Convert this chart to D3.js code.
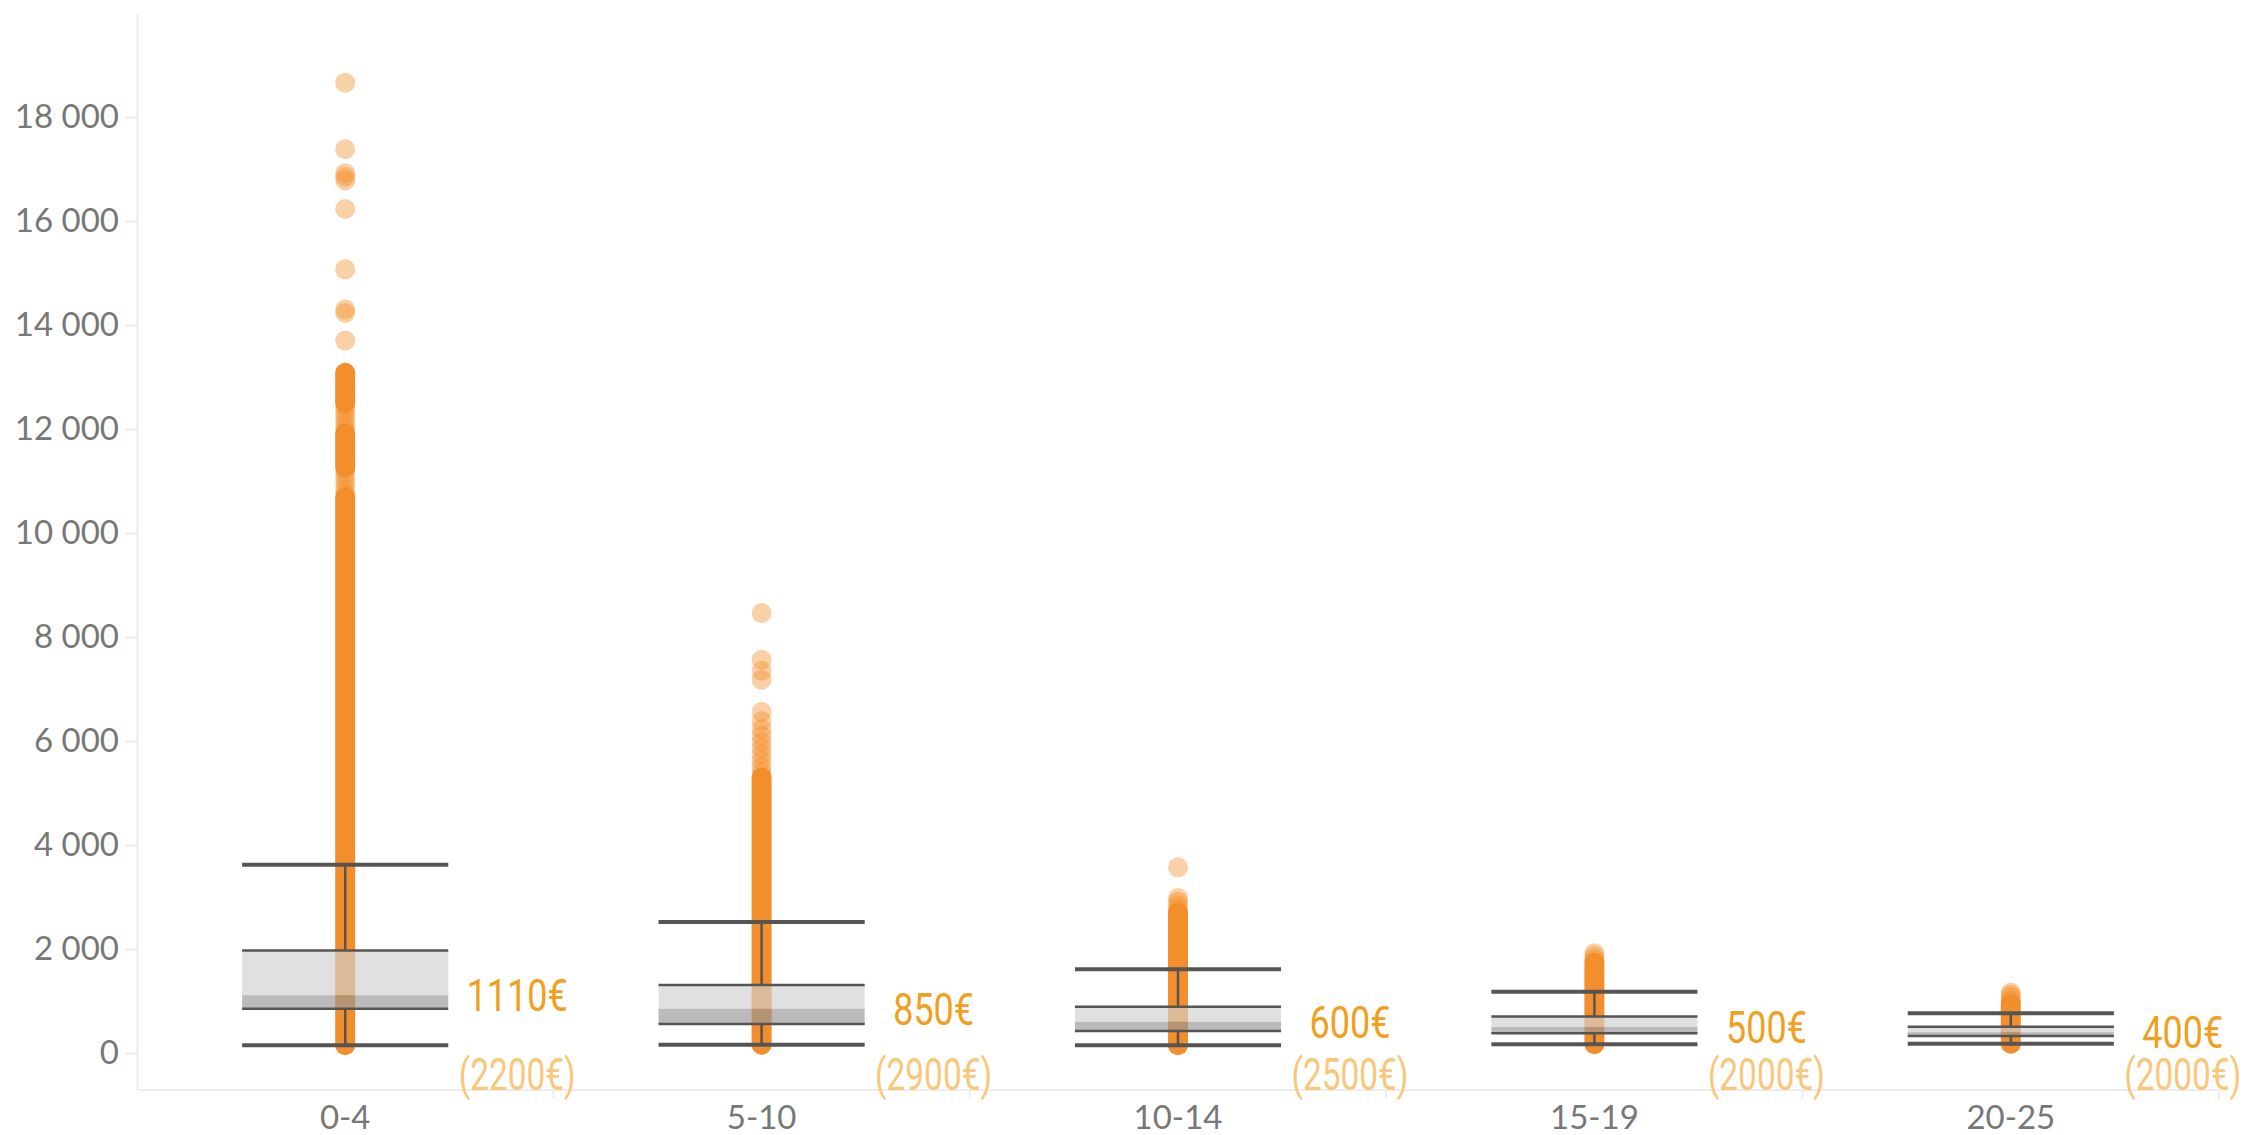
<!DOCTYPE html>
<html>
<head>
<meta charset="utf-8">
<script src="https://cdn.jsdelivr.net/npm/d3@7"></script>
<style>
  body { margin: 0; background: #fff; }
  svg { display: block; }
</style>
</head>
<body>
<div id="chart"></div>
<script>
const width = 2244;
const height = 1135;

// ----- data ----- //
const categories = ["0-4", "5-10", "10-14", "15-19", "20-25"];
const whiskerLow = [150, 160, 150, 170, 180];
const q1 = [850, 560, 425, 380, 325];
const median = [1110, 850, 600, 500, 400];
const q3 = [1970, 1310, 890, 700, 505];
const whiskerHigh = [3620, 2520, 1610, 1180, 765];
const medianLabels = ["1110€", "850€", "600€", "500€", "400€"];
const meanLabels = ["(2200€)", "(2900€)", "(2500€)", "(2000€)", "(2000€)"];
const yTicks = [0, 2000, 4000, 6000, 8000, 10000, 12000, 14000, 16000, 18000];

// value ranges where the points pile up into a solid bar
const denseRanges = [
  [[150, 10690], [11270, 11920], [12500, 13080]],
  [[160, 5300]],
  [[150, 2700]],
  [[170, 1740]],
  [[180, 950]],
];

// the looser points above the solid part
const scatterPoints = [
  [10760, 10850, 10950, 11050, 11150, 11230, 12000, 12090, 12170, 12260, 12350, 12430,
   13700, 14230, 14300, 15070, 16230, 16780, 16850, 16920, 17380, 18660],
  [5400, 5500, 5620, 5740, 5860, 5980, 6100, 6230, 6380, 6560, 7180, 7350, 7560, 8460],
  [2770, 2840, 2910, 2980, 3570],
  [1800, 1860, 1920],
  [1010, 1070, 1120, 1160],
];

const orange = "#f28e2b";
const boxLine = "#555";

function init() {
  const svg = d3
    .select("#chart")
    .append("svg")
    .attr("width", width)
    .attr("height", height);

  const xScale = d3.scaleBand().domain(categories).range([137, 2219]);
  const yScale = d3.scaleLinear().domain([-700, 20000]).range([1089.4, 13]);

  drawAxes(svg, xScale, yScale);
  drawPoints(svg, xScale, yScale);
  drawBoxes(svg, xScale, yScale);
  drawLabels(svg, xScale, yScale);
}

function drawAxes(svg, xScale, yScale) {
  const locale = d3.formatLocale({ thousands: " ", grouping: [3], decimal: ",", currency: ["", "€"] });
  const fmt = locale.format(",d");

  const yAxis = svg
    .append("g")
    .attr("transform", "translate(137,0)")
    .call(d3.axisLeft(yScale).tickValues(yTicks).tickFormat(fmt).tickSize(12).tickSizeOuter(0).tickPadding(6));
  yAxis.select(".domain").attr("stroke", "#ececec").attr("stroke-width", 2);
  yAxis.selectAll(".tick line").attr("stroke", "#ececec").attr("stroke-width", 2);
  yAxis
    .selectAll(".tick text")
    .attr("fill", "#777")
    .style("font-family", "Lato, 'Open Sans', sans-serif")
    .style("font-size", "33px");

  const xAxis = svg
    .append("g")
    .attr("transform", `translate(0,${yScale(-700)})`)
    .call(d3.axisBottom(xScale).tickSize(0).tickSizeOuter(0).tickPadding(16));
  xAxis.select(".domain").attr("stroke", "#ececec").attr("stroke-width", 2);
  xAxis
    .selectAll(".tick text")
    .attr("fill", "#777")
    .style("font-family", "Lato, 'Open Sans', sans-serif")
    .style("font-size", "33px");

  // little separators between the bands
  xAxis
    .selectAll("line.sep")
    .data(categories.slice(1).concat("end"))
    .enter()
    .append("line")
    .attr("class", "sep")
    .attr("x1", d => (d === "end" ? xScale.range()[1] : xScale(d)))
    .attr("x2", d => (d === "end" ? xScale.range()[1] : xScale(d)))
    .attr("y1", 0)
    .attr("y2", 9)
    .attr("stroke", "#ececec")
    .attr("stroke-width", 2);
}

function drawPoints(svg, xScale, yScale) {
  const r = 10;
  const g = svg.append("g");

  categories.forEach((c, i) => {
    const cx = xScale(c) + xScale.bandwidth() / 2;

    // solid stacks of overlapping points
    g.selectAll(null)
      .data(denseRanges[i])
      .enter()
      .append("line")
      .attr("x1", cx)
      .attr("x2", cx)
      .attr("y1", d => yScale(d[0]))
      .attr("y2", d => yScale(d[1]))
      .attr("stroke", orange)
      .attr("stroke-width", r * 2)
      .attr("stroke-linecap", "round");

    g.selectAll(null)
      .data(scatterPoints[i])
      .enter()
      .append("circle")
      .attr("cx", cx)
      .attr("cy", d => yScale(d))
      .attr("r", r)
      .attr("fill", orange)
      .attr("fill-opacity", 0.42);
  });
}

function drawBoxes(svg, xScale, yScale) {
  const boxW = xScale.bandwidth() * 0.495;
  const g = svg.append("g");

  categories.forEach((c, i) => {
    const cx = xScale(c) + xScale.bandwidth() / 2;
    const x0 = cx - boxW / 2;

    // upper part of the box (median -> q3)
    g.append("rect")
      .attr("x", x0)
      .attr("width", boxW)
      .attr("y", yScale(q3[i]))
      .attr("height", yScale(median[i]) - yScale(q3[i]))
      .attr("fill", "#d0d0d0")
      .attr("fill-opacity", 0.66);

    // lower part (q1 -> median)
    g.append("rect")
      .attr("x", x0)
      .attr("width", boxW)
      .attr("y", yScale(median[i]))
      .attr("height", yScale(q1[i]) - yScale(median[i]))
      .attr("fill", "#979797")
      .attr("fill-opacity", 0.66);

    // whisker stems
    [[whiskerLow[i], q1[i]], [q3[i], whiskerHigh[i]]].forEach(seg => {
      g.append("line")
        .attr("x1", cx)
        .attr("x2", cx)
        .attr("y1", yScale(seg[0]))
        .attr("y2", yScale(seg[1]))
        .attr("stroke", boxLine)
        .attr("stroke-width", 2.5);
    });

    // box edges
    [q1[i], q3[i]].forEach(v => {
      g.append("line")
        .attr("x1", x0)
        .attr("x2", x0 + boxW)
        .attr("y1", yScale(v))
        .attr("y2", yScale(v))
        .attr("stroke", boxLine)
        .attr("stroke-width", 2.5);
    });

    // whisker caps
    [whiskerLow[i], whiskerHigh[i]].forEach(v => {
      g.append("line")
        .attr("x1", x0)
        .attr("x2", x0 + boxW)
        .attr("y1", yScale(v))
        .attr("y2", yScale(v))
        .attr("stroke", boxLine)
        .attr("stroke-width", 4);
    });
  });
}

// the labels use a condensed face, so squeeze Roboto sideways
function drawLabels(svg, xScale, yScale) {
  const g = svg.append("g").style("font-family", "Roboto, 'Noto Sans', sans-serif");

  categories.forEach((c, i) => {
    const lx = xScale(c) + xScale.bandwidth() / 2 + 172;

    g.append("text")
      .attr("transform", `translate(${lx},${yScale(median[i])}) scale(0.8,1)`)
      .attr("dy", "0.36em")
      .attr("text-anchor", "middle")
      .attr("fill", "#f0a020")
      .style("font-size", "45px")
      .text(medianLabels[i]);

    g.append("text")
      .attr("transform", `translate(${lx},${yScale(0) + 21}) scale(0.76,1)`)
      .attr("dy", "0.36em")
      .attr("text-anchor", "middle")
      .attr("fill", "#f7c87c")
      .style("font-size", "44px")
      .text(meanLabels[i]);
  });
}

init();
</script>
</body>
</html>
